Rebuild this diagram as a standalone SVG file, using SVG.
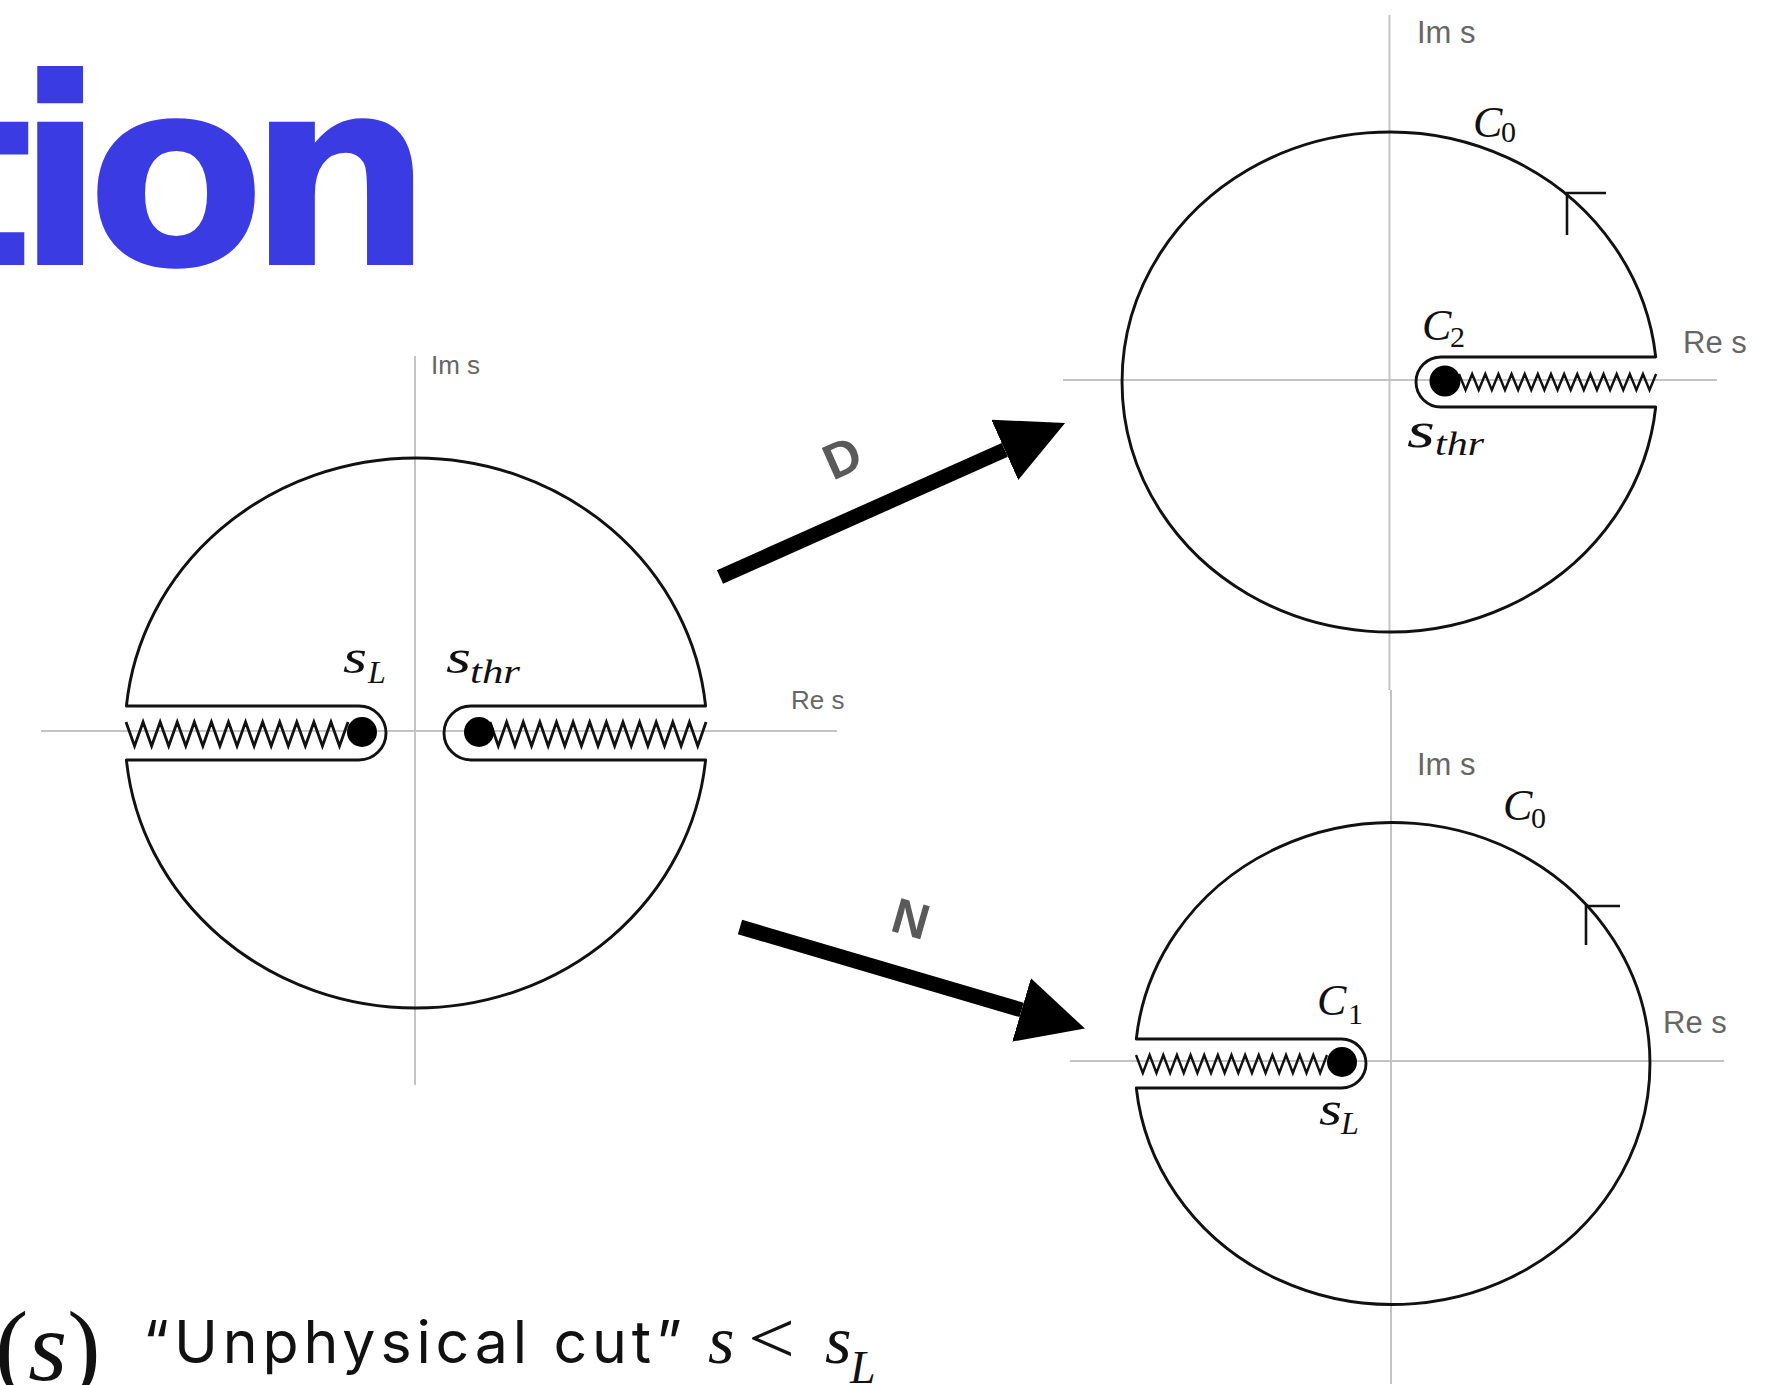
<svg xmlns="http://www.w3.org/2000/svg" width="1779" height="1385" viewBox="0 0 1779 1385">
<style>
.axis{stroke:#c4c4c4;stroke-width:2;fill:none}
.contour{stroke:#111;stroke-width:2.9;fill:none;stroke-linejoin:round}
.zig{stroke:#111;stroke-width:2.8;fill:none;stroke-linejoin:miter}
.zig2{stroke:#111;stroke-width:2.4;fill:none;stroke-linejoin:miter}
.dot{fill:#000}
.ax{font-family:"Liberation Sans",Arial,sans-serif;fill:#666}
.m{font-family:"Liberation Serif","Times New Roman",serif;font-style:italic;fill:#111}
.sub{font-family:"Liberation Serif","Times New Roman",serif;fill:#111}
.lbl{font-family:"Liberation Sans",Arial,sans-serif;font-weight:bold;fill:#5a5a5a;text-anchor:middle}
.tick{stroke:#111;stroke-width:2.6;fill:none}
</style>
<defs>
<marker id="ah" markerUnits="userSpaceOnUse" markerWidth="70" markerHeight="70" refX="0" refY="33" orient="auto">
<path d="M0,0 L66,33 L0,66 Z" fill="#000"/>
</marker>
</defs>
<rect width="1779" height="1385" fill="#ffffff"/>
<g id="title">
<text x="-91" y="265" letter-spacing="-19" font-family="'DejaVu Sans', sans-serif" font-weight="bold" font-size="262" fill="#3b3be3">tion</text>
</g>
<g id="diagram-left">
<line class="axis" x1="415" y1="356" x2="415" y2="1085"/>
<line class="axis" x1="41" y1="731" x2="837" y2="731"/>
<text class="ax" x="431" y="374" font-size="26">Im s</text>
<text class="ax" x="791" y="709" font-size="26">Re s</text>
<path class="contour" d="M126.4,706 A291,275 0 0 1 705.6,706 L471,706 A27,27 0 0 0 471,760 L705.6,760 A291,275 0 0 1 126.4,760 L359,760 A27,27 0 0 0 359,706 Z"/>
<path class="zig" d="M126,722 l8.54,24 l8.54,-24 l8.54,24 l8.54,-24 l8.54,24 l8.54,-24 l8.54,24 l8.54,-24 l8.54,24 l8.54,-24 l8.54,24 l8.54,-24 l8.54,24 l8.54,-24 l8.54,24 l8.54,-24 l8.54,24 l8.54,-24 l8.54,24 l8.54,-24 l8.54,24 l8.54,-24 l8.54,24 l8.54,-24 l8.54,24 l8.54,-24"/>
<path class="zig" d="M490,722 l8.31,24 l8.31,-24 l8.31,24 l8.31,-24 l8.31,24 l8.31,-24 l8.31,24 l8.31,-24 l8.31,24 l8.31,-24 l8.31,24 l8.31,-24 l8.31,24 l8.31,-24 l8.31,24 l8.31,-24 l8.31,24 l8.31,-24 l8.31,24 l8.31,-24 l8.31,24 l8.31,-24 l8.31,24 l8.31,-24 l8.31,24 l8.31,-24"/>
<circle class="dot" cx="362" cy="732" r="15"/>
<circle class="dot" cx="479" cy="732" r="15"/>
<text class="m" x="343" y="673" font-size="48" textLength="24" lengthAdjust="spacingAndGlyphs">s</text>
<text class="m" x="368" y="683" font-size="32">L</text>
<text class="m" x="446" y="673" font-size="48" textLength="25" lengthAdjust="spacingAndGlyphs">s</text>
<text class="m" x="470" y="683" font-size="34" textLength="50" lengthAdjust="spacingAndGlyphs">thr</text>
</g>
<g id="diagram-top-right">
<line class="axis" x1="1389.5" y1="15" x2="1389.5" y2="690"/>
<line class="axis" x1="1063" y1="380" x2="1717" y2="380"/>
<text class="ax" x="1417" y="43" font-size="31">Im s</text>
<text class="ax" x="1683" y="353" font-size="31">Re s</text>
<path class="contour" d="M1655.7,357 A267.5,250 0 1 0 1655.7,407 L1441,407 A25,25 0 0 1 1441,357 Z"/>
<path class="zig2" d="M1459,374 l6.57,16 l6.57,-16 l6.57,16 l6.57,-16 l6.57,16 l6.57,-16 l6.57,16 l6.57,-16 l6.57,16 l6.57,-16 l6.57,16 l6.57,-16 l6.57,16 l6.57,-16 l6.57,16 l6.57,-16 l6.57,16 l6.57,-16 l6.57,16 l6.57,-16 l6.57,16 l6.57,-16 l6.57,16 l6.57,-16 l6.57,16 l6.57,-16 l6.57,16 l6.57,-16 l6.57,16 l6.57,-16"/>
<circle class="dot" cx="1445" cy="381" r="15.5"/>
<path class="tick" d="M1606,193 L1567,193 L1567,235"/>
<text class="m" x="1473" y="137" font-size="44">C</text>
<text class="sub" x="1501" y="142" font-size="30">0</text>
<text class="m" x="1422" y="340" font-size="44">C</text>
<text class="sub" x="1450" y="347" font-size="30">2</text>
<text class="m" x="1407" y="447" font-size="50" textLength="28" lengthAdjust="spacingAndGlyphs">s</text>
<text class="m" x="1435" y="455" font-size="34" textLength="49" lengthAdjust="spacingAndGlyphs">thr</text>
</g>
<g id="diagram-bottom-right">
<line class="axis" x1="1391" y1="690" x2="1391" y2="1384"/>
<line class="axis" x1="1070" y1="1061" x2="1724" y2="1061"/>
<text class="ax" x="1417" y="775" font-size="31">Im s</text>
<text class="ax" x="1663" y="1033" font-size="31">Re s</text>
<path class="contour" d="M1136.3,1039 L1341.5,1039 A24.5,24.5 0 0 1 1341.5,1088 L1136.3,1088 A257.5,241 0 1 0 1136.3,1039 Z"/>
<path class="zig2" d="M1136,1055 l6.82,18 l6.82,-18 l6.82,18 l6.82,-18 l6.82,18 l6.82,-18 l6.82,18 l6.82,-18 l6.82,18 l6.82,-18 l6.82,18 l6.82,-18 l6.82,18 l6.82,-18 l6.82,18 l6.82,-18 l6.82,18 l6.82,-18 l6.82,18 l6.82,-18 l6.82,18 l6.82,-18 l6.82,18 l6.82,-18 l6.82,18 l6.82,-18 l6.82,18 l6.82,-18"/>
<circle class="dot" cx="1342" cy="1062" r="15"/>
<path class="tick" d="M1620,906 L1586,906 L1586,945"/>
<text class="m" x="1503" y="820" font-size="44">C</text>
<text class="sub" x="1531" y="828" font-size="30">0</text>
<text class="m" x="1317" y="1015" font-size="44">C</text>
<text class="sub" x="1348" y="1024" font-size="30">1</text>
<text class="m" x="1319" y="1125" font-size="48" textLength="23" lengthAdjust="spacingAndGlyphs">s</text>
<text class="m" x="1341" y="1134" font-size="32">L</text>
</g>
<g id="connectors">
<line x1="720" y1="577" x2="1004.8" y2="449.9" stroke="#000" stroke-width="15" marker-end="url(#ah)"/>
<line x1="740" y1="927" x2="1021.6" y2="1009.9" stroke="#000" stroke-width="15" marker-end="url(#ah)"/>
<text class="lbl" font-size="50" transform="translate(842,457) rotate(-24)" y="18">D</text>
<text class="lbl" font-size="50" transform="translate(911,918) rotate(16)" y="18">N</text>
</g>
<g id="caption">
<text x="-5" y="1380" font-family="'Liberation Serif','Times New Roman',serif" font-size="100" fill="#111">(<tspan font-style="italic">s</tspan>)</text>
<text x="143" y="1363" font-family="Inter,'Liberation Sans',sans-serif" font-size="59" fill="#111" textLength="539" lengthAdjust="spacing">“Unphysical cut”</text>
<text x="708" y="1363" font-family="'Liberation Serif','Times New Roman',serif" font-size="68" font-style="italic" fill="#111">s</text>
<text x="748" y="1363" font-family="'Liberation Serif','Times New Roman',serif" font-size="74" fill="#111" textLength="47" lengthAdjust="spacingAndGlyphs">&lt;</text>
<text x="825" y="1363" font-family="'Liberation Serif','Times New Roman',serif" font-size="68" font-style="italic" fill="#111">s</text>
<text x="850" y="1383" font-family="'Liberation Serif','Times New Roman',serif" font-size="46" font-style="italic" fill="#111">L</text>
</g>
</svg>
